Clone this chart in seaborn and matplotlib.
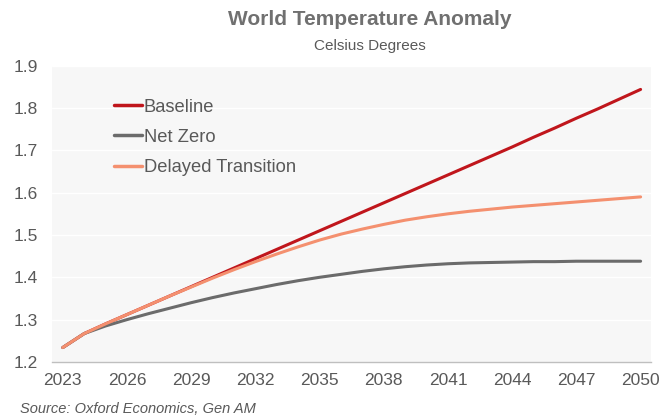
import pandas as pd
import seaborn as sns
import matplotlib.pyplot as plt

years = list(range(2023, 2051))

baseline = [1.234, 1.267, 1.290, 1.312, 1.334, 1.356, 1.378, 1.400, 1.422, 1.444,
            1.466, 1.488, 1.510, 1.532, 1.554, 1.576, 1.598, 1.620, 1.642, 1.664,
            1.686, 1.708, 1.731, 1.753, 1.776, 1.798, 1.821, 1.844]
net_zero = [1.234, 1.267, 1.285, 1.300, 1.314, 1.327, 1.340, 1.352, 1.363, 1.373,
            1.383, 1.392, 1.400, 1.407, 1.414, 1.420, 1.425, 1.429, 1.432, 1.434,
            1.435, 1.436, 1.437, 1.437, 1.438, 1.438, 1.438, 1.438]
delayed = [1.234, 1.267, 1.290, 1.312, 1.334, 1.356, 1.377, 1.398, 1.418, 1.437,
           1.455, 1.472, 1.488, 1.502, 1.514, 1.525, 1.535, 1.543, 1.550, 1.556,
           1.561, 1.566, 1.570, 1.574, 1.578, 1.582, 1.586, 1.590]

scenarios = ['Baseline', 'Net Zero', 'Delayed Transition']
colors = ['#C0161C', '#6B6B6B', '#F4906F']
x_ticks = list(range(2023, 2051, 3))
y_ticks = [1.2, 1.3, 1.4, 1.5, 1.6, 1.7, 1.8, 1.9]

df = pd.DataFrame({'year': years * 3,
                   'value': baseline + net_zero + delayed,
                   'scenario': [s for s in scenarios for _ in years]})

sns.set_theme(style='white')
plt.rcParams['font.family'] = ['Liberation Sans', 'DejaVu Sans']

fig = plt.figure(figsize=(6.68, 4.16), dpi=100)
ax = fig.add_axes([0.078, 0.13, 0.897, 0.712])
ax.set_facecolor('#F7F7F7')

sns.lineplot(data=df, x='year', y='value', hue='scenario', hue_order=scenarios,
             palette=colors, linewidth=2.2, ax=ax)

ax.set_xlim(2022.5, 2050.5)
ax.set_ylim(1.2, 1.9)
ax.set_xticks(x_ticks)
ax.set_yticks(y_ticks)
ax.set_yticklabels([f'{v:.1f}' for v in y_ticks])
ax.grid(axis='y', color='white', linewidth=1.0)
ax.set_axisbelow(True)
for side in ['top', 'right', 'left']:
    ax.spines[side].set_visible(False)
ax.spines['bottom'].set_color('#BFBFBF')
ax.spines['bottom'].set_linewidth(1.0)
ax.tick_params(axis='both', length=0, labelsize=12.5, labelcolor='#595959')
ax.tick_params(axis='x', pad=8)
ax.tick_params(axis='y', pad=10)
ax.set_xlabel('')
ax.set_ylabel('')

leg = ax.legend(loc='upper left', bbox_to_anchor=(0.075, 0.945), frameon=False,
                fontsize=13.2, handlelength=1.55, handletextpad=0.1,
                labelspacing=0.72, labelcolor='#595959')
for line in leg.get_lines():
    line.set_linewidth(2.5)

fig.text(0.553, 0.953, 'World Temperature Anomaly', ha='center', va='center',
         fontsize=15, fontweight='bold', color='#707070')
fig.text(0.553, 0.89, 'Celsius Degrees', ha='center', va='center',
         fontsize=11, color='#595959')
fig.text(0.03, 0.018, 'Source: Oxford Economics, Gen AM', ha='left', va='center',
         fontsize=10.5, style='italic', color='#595959')

plt.savefig('out.png', dpi=100)
